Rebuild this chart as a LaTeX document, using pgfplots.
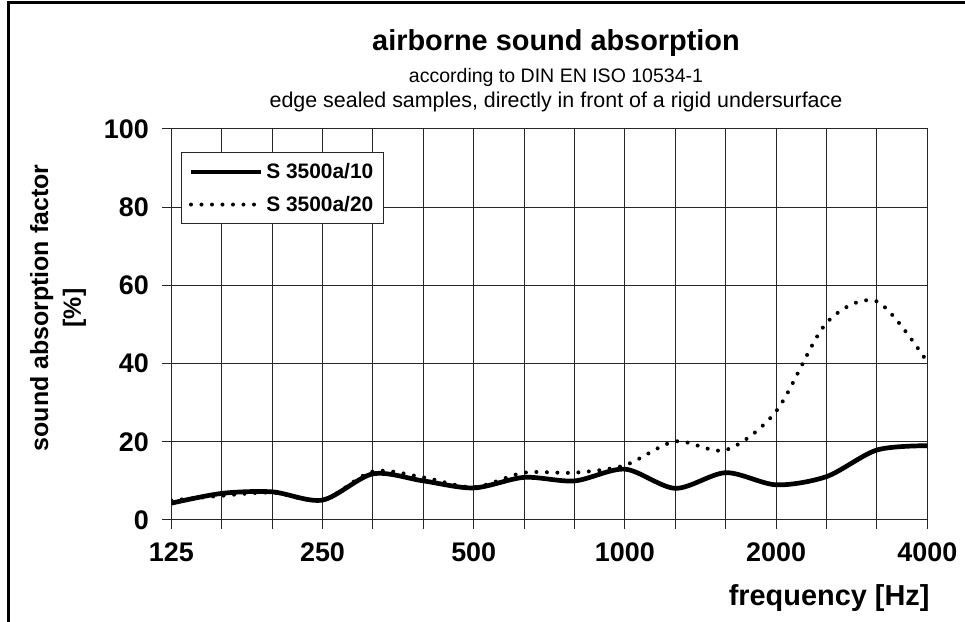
\documentclass[border=0pt]{standalone}
\usepackage{pgfplots}
\pgfplotsset{compat=1.18}
\usepackage{fontspec}
\setmainfont{Liberation Sans}
\begin{document}
\begin{tikzpicture}[x=1bp,y=1bp]
\useasboundingbox (0,0) rectangle (965,622);
\fill[white] (0,0) rectangle (965,622);
\draw[line width=2.5bp] (8.5,0) -- (8.5,619.5) -- (965,619.5);
\node[anchor=base,font=\fontsize{29}{29}\selectfont\bfseries] at (556,571) {airborne sound absorption};
\node[anchor=base,font=\fontsize{19.6}{20}\selectfont] at (556,539) {according to DIN EN ISO 10534-1};
\node[anchor=base,font=\fontsize{21.5}{22}\selectfont] at (556,514.7) {edge sealed samples, directly in front of a rigid undersurface};
\node[rotate=90,align=center,font=\fontsize{25}{33}\selectfont\bfseries] at (58,314) {sound absorption factor\\{}[\%]};
\node[anchor=base east,font=\fontsize{29}{29}\selectfont\bfseries] at (933,16) {frequency [Hz]};
\begin{axis}[
  at={(171.3bp,102bp)}, anchor=south west,
  width=756bp, height=391bp, scale only axis,
  xmin=0, xmax=15, ymin=0, ymax=100,
  xtick={0,...,15},
  xticklabels={125,,,250,,,500,,,1000,,,2000,,,4000},
  ytick={0,20,...,100},
  grid=major,
  major grid style={black!85, line width=1bp},
  axis line style={black!85, line width=1bp},
  tick style={black!85, line width=1bp},
  tick align=outside, major tick length=9bp,
  xtick pos=bottom, ytick pos=left,
  /pgf/number format/assume math mode=true,
  ticklabel style={font=\fontsize{27}{27}\selectfont\bfseries},
  xticklabel style={yshift=-10bp},
  yticklabel style={xshift=-10bp},
  legend style={at={(0.013,0.941)}, anchor=north west, draw=black!85, line width=1bp, fill=white,
    font=\fontsize{21}{21}\selectfont\bfseries, inner xsep=7bp, inner ysep=8bp, row sep=10bp,
    nodes={inner xsep=3bp, inner ysep=3bp},
    /tikz/every even column/.append style={column sep=1bp}},
  legend cell align=left,
  legend image code/.code={\draw[#1] (0bp,0bp) -- (70bp,0bp);},
]
\addplot[black, line width=4.7bp, smooth, tension=0.5] table {
x y
0 4.3
1 6.8
2 7.2
3 5.1
4 11.8
5 10.0
6 8.2
7 10.9
8 10.0
9 13.0
10 8.1
11 12.1
12 9.0
13 11.1
14 17.9
15 19.0
};
\addlegendentry{S 3500a/10}
\addplot[black, line width=4bp, line cap=round, dash pattern=on 0bp off 10.5bp, smooth, tension=0.5] table {
x y
0 5.0
1 6.2
2 7.0
3 5.1
4 12.4
5 10.9
6 8.4
7 12.1
8 12.1
9 14.0
10 20.1
11 17.9
12 27.8
13 50.4
14 55.9
15 40.4
};
\addlegendentry{S 3500a/20}
\end{axis}
\end{tikzpicture}
\end{document}
